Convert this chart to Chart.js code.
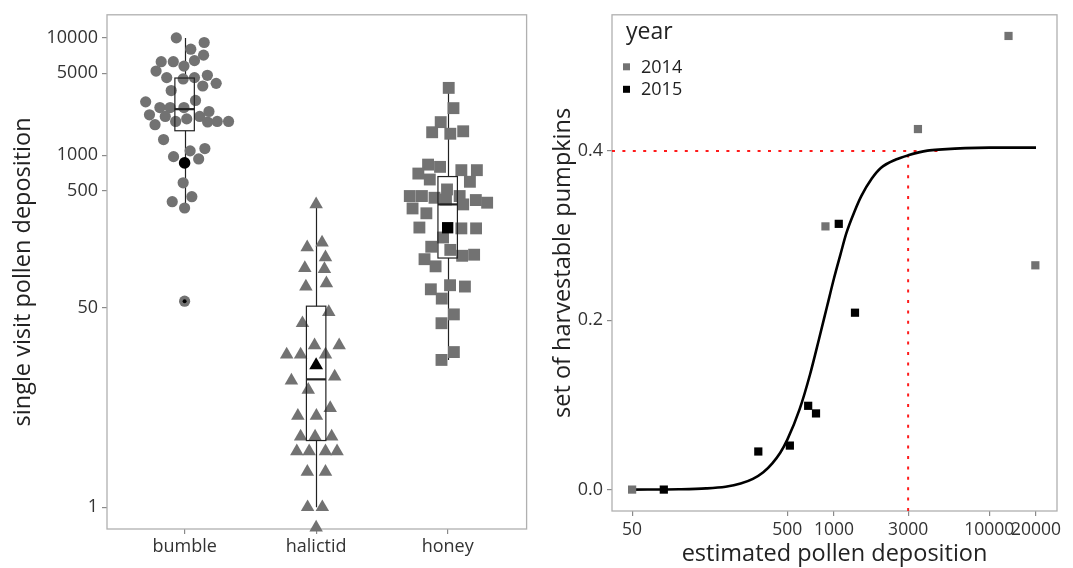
<!DOCTYPE html>
<html>
<head>
<meta charset="utf-8">
<script src="https://cdn.jsdelivr.net/npm/chart.js@4.4.0/dist/chart.umd.min.js"></script>
<style>
  html, body { margin: 0; padding: 0; background: #fff; }
  #wrap { position: relative; width: 1073px; height: 568px; }
  #depositionChart { position: absolute; left: 0; top: 0; }
  #pumpkinChart { position: absolute; left: 535px; top: 0; }
</style>
</head>
<body>
<div id="wrap">
  <canvas id="depositionChart" width="535" height="568"></canvas>
  <canvas id="pumpkinChart" width="538" height="568"></canvas>
</div>
<script>
// ---- single visit deposition per bee group ----
const species = ["bumble", "halictid", "honey"];
const depositionTicks = [1, 50, 500, 1000, 5000, 10000];

// jitter = horizontal offset from the group centre, in group widths
const bumbleJitter = [-0.063, 0.047, 0.149, 0.144, -0.178, -0.086, 0.075, -0.005, -0.217, -0.136,
  -0.011, 0.075, 0.173, 0.138, 0.240, -0.102, -0.296, 0.083, -0.005, -0.188,
  -0.110, -0.267, -0.147, -0.068, 0.016, 0.115, 0.185, 0.175, 0.248, 0.334,
  -0.225, -0.160, 0.042, 0.154, -0.084, 0.107, -0.011, -0.094, 0.055, 0, 0];
const bumbleDeposition = [10000, 8010, 9140, 7130, 6270, 6270, 6400, 5750, 5220, 4590,
  4470, 4590, 4800, 3890, 4100, 3560, 2850, 2930, 2550, 2550,
  2550, 2210, 2140, 1940, 2040, 2140, 2360, 1920, 1940, 1940,
  1820, 1360, 1090, 1140, 973, 930, 582, 402, 443, 355, 57];

const halictidJitter = [0, -0.068, 0.045, 0.071, -0.086, 0.063, -0.078, 0.078, 0.096, -0.104,
  -0.012, -0.224, -0.118, 0.071, 0.175, -0.188, 0.141, -0.060, 0.107, -0.139,
  0.002, -0.118, -0.008, 0.118, -0.147, -0.053, 0.071, 0.159, -0.067, 0.071,
  -0.065, 0.047, 0];
const halictidDeposition = [381, 164, 180, 135, 109, 107, 76, 81, 46, 37,
  24, 20, 20, 20, 24, 12, 13, 10, 7, 6,
  6, 4, 4, 4, 3, 3, 3, 3, 2, 2,
  1, 1, 0.67];

const honeyJitter = [0.008, 0.044, -0.053, -0.118, 0.020, 0.118, -0.149, -0.058, -0.223, -0.136,
  0.104, 0.222, 0.169, -0.005, -0.288, -0.196, -0.100, -0.013, 0.091, 0.214,
  0.300, -0.267, -0.162, 0.118, -0.215, 0.104, 0.216, -0.035, -0.125, 0.020,
  0.110, 0.201, -0.176, -0.092, 0.018, 0.131, -0.128, -0.045, 0.047, -0.047,
  0.047, -0.047];
const honeyDeposition = [3750, 2520, 1915, 1570, 1525, 1600, 832, 796, 698, 621,
  746, 746, 594, 511, 449, 449, 434, 420, 449, 415,
  394, 352, 320, 381, 242, 238, 238, 199, 166, 156,
  139, 142, 130, 113, 78, 76, 72, 60, 44, 37,
  21, 18];

// box plot summaries, one entry per group
const whiskerLow = [355, 1, 18];
const boxLower = [1617, 3.7, 133];
const boxMedian = [2470, 12.3, 381];
const boxUpper = [4550, 51.7, 658];
const whiskerHigh = [10000, 381, 3750];
const groupMean = [860, 16.2, 241];
const bumbleOutliers = [57];

// ---- pumpkin set vs estimated pollen deposition ----
const years = ["2014", "2015"];
const pollen2014 = [50, 880, 3470, 13300, 19800];
const set2014 = [0, 0.311, 0.426, 0.536, 0.265];
const pollen2015 = [80, 325, 519, 681, 765, 1072, 1364];
const set2015 = [0, 0.045, 0.052, 0.099, 0.090, 0.314, 0.209];

// fitted curve
const fitPollen = [50, 100, 150, 200, 250, 300, 350, 400, 450, 500, 600, 700, 800, 900, 1000,
  1100, 1200, 1350, 1500, 1750, 2000, 2500, 3000, 4000, 5000, 7000, 10000, 20000];
const fitSet = [0, 0.0004, 0.0014, 0.0034, 0.0071, 0.0126, 0.0204, 0.031, 0.0435, 0.059, 0.095, 0.136, 0.178, 0.216, 0.250,
  0.278, 0.303, 0.328, 0.347, 0.3675, 0.380, 0.390, 0.395, 0.4005, 0.402, 0.4035, 0.404, 0.404];

// threshold guide: 3000 grains gives ~0.4 set
const thresholdPollen = [3000, 3000];
const thresholdSetV = [-0.0253, 0.395];
const plateauPollen = [37.1, 5000];
const plateauSet = [0.4, 0.4];

const pollenTicks = [50, 500, 1000, 3000, 10000, 20000];
const setTicks = [0, 0.2, 0.4];

const GREY = "#727272";
const FONT = "'Open Sans', sans-serif";
const TEXT = "#333";

Chart.defaults.font.family = FONT;
Chart.defaults.color = TEXT;

const toPoints = (xs, ys) => xs.map((x, i) => ({ x: x, y: ys[i] }));
const jittered = (group, jitter, values) => values.map((v, i) => ({ x: group + jitter[i], y: v }));

// grey frame around the plotting panel
const panelFrame = {
  id: "panelFrame",
  beforeDatasetsDraw(chart) {
    const { ctx, chartArea: a } = chart;
    ctx.save();
    ctx.strokeStyle = "#b0b0b0";
    ctx.lineWidth = 1.3;
    ctx.strokeRect(a.left, a.top, a.right - a.left, a.bottom - a.top);
    ctx.restore();
  }
};

const boxPlot = {
  id: "boxPlot",
  beforeDatasetsDraw(chart) {
    const { ctx, scales: { x, y } } = chart;
    ctx.save();
    ctx.strokeStyle = "#222";
    ctx.lineWidth = 1.2;
    species.forEach((s, i) => {
      const cx = Math.round(x.getPixelForValue(i)) + 0.5;
      ctx.beginPath();
      ctx.moveTo(cx, y.getPixelForValue(whiskerHigh[i]));
      ctx.lineTo(cx, y.getPixelForValue(boxUpper[i]));
      ctx.moveTo(cx, y.getPixelForValue(boxLower[i]));
      ctx.lineTo(cx, y.getPixelForValue(whiskerLow[i]));
      ctx.stroke();
    });
    ctx.restore();
  },
  afterDatasetsDraw(chart) {
    const { ctx, scales: { x, y } } = chart;
    ctx.save();
    ctx.strokeStyle = "#222";
    species.forEach((s, i) => {
      const l = x.getPixelForValue(i - 0.074);
      const r = x.getPixelForValue(i + 0.074);
      const top = y.getPixelForValue(boxUpper[i]);
      const bot = y.getPixelForValue(boxLower[i]);
      ctx.lineWidth = 1.2;
      ctx.strokeRect(l, top, r - l, bot - top);
      const m = y.getPixelForValue(boxMedian[i]);
      ctx.lineWidth = 2.2;
      ctx.beginPath();
      ctx.moveTo(l, m);
      ctx.lineTo(r, m);
      ctx.stroke();
    });
    ctx.restore();
  }
};

const yearLegend = {
  id: "yearLegend",
  afterDraw(chart) {
    const { ctx, chartArea: a } = chart;
    ctx.save();
    ctx.fillStyle = "#222";
    ctx.textBaseline = "alphabetic";
    ctx.font = "23px " + FONT;
    ctx.fillText("year", a.left + 14, a.top + 24);
    const colours = [GREY, "#000"];
    ctx.font = "18px " + FONT;
    ctx.textBaseline = "middle";
    years.forEach((yr, i) => {
      const cy = a.top + 52 + i * 22.5;
      ctx.fillStyle = colours[i];
      ctx.fillRect(a.left + 11, cy - 3.5, 7, 7);
      ctx.fillStyle = "#222";
      ctx.fillText(yr, a.left + 29, cy + 1);
    });
    ctx.restore();
  }
};

function fixedTicks(list) {
  return function (scale) {
    scale.ticks = list.map(v => ({ value: v }));
  };
}

const axisGrid = { display: true, drawOnChartArea: false, drawTicks: true, tickLength: 5, color: "#8a8a8a", lineWidth: 1.2 };

new Chart(document.getElementById("depositionChart"), {
  type: "scatter",
  data: {
    datasets: [
      {
        label: "outlier",
        data: bumbleOutliers.map(v => ({ x: 0, y: v })),
        pointStyle: "circle", pointRadius: 2, backgroundColor: "#000", borderWidth: 0, order: 0, clip: false
      },
      {
        label: "mean",
        data: groupMean.map((v, i) => ({ x: i, y: v })),
        pointStyle: ["circle", "triangle", "rect"],
        pointRadius: [5.8, 8, 8],
        backgroundColor: "#000", borderWidth: 0, order: 1, clip: false
      },
      {
        label: "bumble",
        data: jittered(0, bumbleJitter, bumbleDeposition),
        pointStyle: "circle", pointRadius: 5.6, backgroundColor: GREY, borderWidth: 0, order: 2, clip: false
      },
      {
        label: "halictid",
        data: jittered(1, halictidJitter, halictidDeposition),
        pointStyle: "triangle", pointRadius: 7.8, backgroundColor: GREY, borderWidth: 0, order: 2, clip: false
      },
      {
        label: "honey",
        data: jittered(2, honeyJitter, honeyDeposition),
        pointStyle: "rect", pointRadius: 8.4, backgroundColor: GREY, borderWidth: 0, order: 2, clip: false
      }
    ]
  },
  options: {
    responsive: false,
    devicePixelRatio: 1,
    animation: false,
    events: [],
    layout: { padding: { top: 11, right: 8, left: 0, bottom: 0 } },
    plugins: { legend: { display: false }, tooltip: { enabled: false } },
    scales: {
      x: {
        type: "linear",
        min: -0.59, max: 2.6,
        afterBuildTicks: fixedTicks([0, 1, 2]),
        afterFit: s => { s.height = 39; },
        ticks: { callback: v => species[v], font: { size: 18 }, color: TEXT, padding: 2, maxRotation: 0, autoSkip: false },
        grid: axisGrid,
        border: { display: false }
      },
      y: {
        type: "logarithmic",
        min: 0.652, max: 15740,
        afterBuildTicks: fixedTicks(depositionTicks),
        afterFit: s => { s.width = 107; },
        ticks: { callback: v => String(v), font: { size: 18 }, color: TEXT, padding: 4, autoSkip: false },
        grid: axisGrid,
        border: { display: false },
        title: { display: true, text: "single visit pollen deposition", font: { size: 23.5 }, color: "#222", padding: { top: 9, bottom: 0 } }
      }
    }
  },
  plugins: [panelFrame, boxPlot]
});

new Chart(document.getElementById("pumpkinChart"), {
  type: "scatter",
  data: {
    datasets: [
      {
        label: "2014",
        data: toPoints(pollen2014, set2014),
        pointStyle: "rect", pointRadius: 5.8, backgroundColor: GREY, borderWidth: 0, order: 0, clip: false
      },
      {
        label: "2015",
        data: toPoints(pollen2015, set2015),
        pointStyle: "rect", pointRadius: 5.8, backgroundColor: "#000", borderWidth: 0, order: 0, clip: false
      },
      {
        label: "fit",
        data: toPoints(fitPollen, fitSet),
        showLine: true, pointRadius: 0, borderColor: "#000", borderWidth: 2.6,
        cubicInterpolationMode: "monotone", order: 1
      },
      {
        label: "plateau",
        data: toPoints(plateauPollen, plateauSet),
        showLine: true, pointRadius: 0, borderColor: "#ff1a1a", borderWidth: 2, borderDash: [3, 7.4], order: 2
      },
      {
        label: "threshold",
        data: toPoints(thresholdPollen, thresholdSetV),
        showLine: true, pointRadius: 0, borderColor: "#ff1a1a", borderWidth: 2, borderDash: [3, 7.4], order: 2
      }
    ]
  },
  options: {
    responsive: false,
    devicePixelRatio: 1,
    animation: false,
    events: [],
    layout: { padding: { top: 6, right: 16, left: 0, bottom: 0 } },
    plugins: { legend: { display: false }, tooltip: { enabled: false } },
    scales: {
      x: {
        type: "logarithmic",
        min: 37.1, max: 27300,
        afterBuildTicks: fixedTicks(pollenTicks),
        afterFit: s => { s.height = 57; },
        ticks: { callback: v => String(v), font: { size: 17.5 }, color: TEXT, padding: 4, maxRotation: 0, autoSkip: false },
        grid: axisGrid,
        border: { display: false },
        title: { display: true, text: "estimated pollen deposition", font: { size: 23.5 }, color: "#222", padding: { top: 0, bottom: 0 } }
      },
      y: {
        type: "linear",
        min: -0.0253, max: 0.561,
        afterBuildTicks: fixedTicks(setTicks),
        afterFit: s => { s.width = 77; },
        ticks: { callback: v => v.toFixed(1), font: { size: 18 }, color: TEXT, padding: 4, autoSkip: false },
        grid: axisGrid,
        border: { display: false },
        title: { display: true, text: "set of harvestable pumpkins", font: { size: 23.5 }, color: "#222", padding: { top: 14, bottom: 0 } }
      }
    }
  },
  plugins: [panelFrame, yearLegend]
});
</script>
</body>
</html>
